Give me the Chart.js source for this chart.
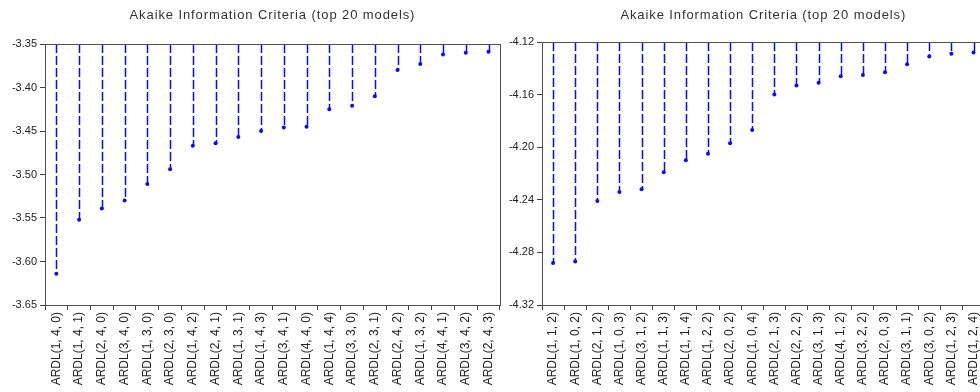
<!DOCTYPE html>
<html>
<head>
<meta charset="utf-8">
<script src="https://cdn.jsdelivr.net/npm/chart.js@4"></script>
<style>
html, body { margin: 0; padding: 0; background: #fff; overflow: hidden; width: 980px; height: 392px; }
#wrap { position: relative; width: 980px; height: 392px; overflow: hidden; }
canvas { position: absolute; top: 0; }
</style>
</head>
<body>
<div id="wrap">
  <canvas id="c1" width="505" height="392" style="left:0"></canvas>
  <canvas id="c2" width="490" height="392" style="left:500px"></canvas>
</div>
<script>
// left panel
const leftModels = ['ARDL(1, 4, 0)','ARDL(1, 4, 1)','ARDL(2, 4, 0)','ARDL(3, 4, 0)','ARDL(1, 3, 0)',
  'ARDL(2, 3, 0)','ARDL(1, 4, 2)','ARDL(2, 4, 1)','ARDL(1, 3, 1)','ARDL(1, 4, 3)',
  'ARDL(3, 4, 1)','ARDL(4, 4, 0)','ARDL(1, 4, 4)','ARDL(3, 3, 0)','ARDL(2, 3, 1)',
  'ARDL(2, 4, 2)','ARDL(1, 3, 2)','ARDL(4, 4, 1)','ARDL(3, 4, 2)','ARDL(2, 4, 3)'];
const leftAic = [-3.614, -3.552, -3.539, -3.530, -3.511, -3.494, -3.467, -3.464, -3.457, -3.450,
  -3.446, -3.445, -3.425, -3.421, -3.410, -3.380, -3.373, -3.362, -3.360, -3.359];
const leftRange = [-3.65, -3.35, 0.05];

// right panel
const rightModels = ['ARDL(1, 1, 2)','ARDL(1, 0, 2)','ARDL(2, 1, 2)','ARDL(1, 0, 3)','ARDL(3, 1, 2)',
  'ARDL(1, 1, 3)','ARDL(1, 1, 4)','ARDL(1, 2, 2)','ARDL(2, 0, 2)','ARDL(1, 0, 4)',
  'ARDL(2, 1, 3)','ARDL(2, 2, 2)','ARDL(3, 1, 3)','ARDL(4, 1, 2)','ARDL(3, 2, 2)',
  'ARDL(2, 0, 3)','ARDL(3, 1, 1)','ARDL(3, 0, 2)','ARDL(1, 2, 3)','ARDL(1, 2, 4)'];
const rightAic = [-4.288, -4.287, -4.241, -4.234, -4.232, -4.219, -4.210, -4.205, -4.197, -4.187,
  -4.160, -4.153, -4.151, -4.146, -4.145, -4.143, -4.137, -4.131, -4.129, -4.128];
const rightRange = [-4.32, -4.12, 0.04];

const titleText = 'Akaike Information Criteria (top 20 models)';

// dashed stems from the top of the plot down to each value
const stems = {
  id: 'stems',
  beforeDatasetsDraw(chart) {
    const { ctx, chartArea } = chart;
    ctx.save();
    ctx.strokeStyle = '#0a0aff';
    ctx.lineWidth = 1.5;
    ctx.setLineDash([9, 3]);
    chart.getDatasetMeta(0).data.forEach(p => {
      ctx.beginPath();
      ctx.moveTo(Math.round(p.x) + 0.5, chartArea.top);
      ctx.lineTo(Math.round(p.x) + 0.5, p.y);
      ctx.stroke();
    });
    ctx.restore();
  }
};

// frame + title centred on the plot
const frame = {
  id: 'frame',
  afterDraw(chart) {
    const { ctx, chartArea: a } = chart;
    ctx.save();
    ctx.strokeStyle = '#505050';
    ctx.lineWidth = 1;
    ctx.strokeRect(Math.round(a.left) + 0.5, Math.round(a.top) + 0.5,
      Math.round(a.right - a.left), Math.round(a.bottom - a.top));
    ctx.fillStyle = '#333';
    ctx.font = '13px "Liberation Sans", Arial, sans-serif';
    ctx.letterSpacing = '0.9px';
    ctx.textAlign = 'center';
    ctx.textBaseline = 'middle';
    ctx.fillText(titleText, (a.left + a.right) / 2, 15);
    ctx.restore();
  }
};

function makeChart(id, labels, values, range, axisW, top) {
  return new Chart(document.getElementById(id), {
    type: 'line',
    data: {
      labels: labels,
      datasets: [{
        data: values,
        showLine: false,
        pointRadius: 2,
        pointBackgroundColor: '#0a0aff',
        pointBorderColor: '#0a0aff',
        pointBorderWidth: 0
      }]
    },
    options: {
      responsive: false,
      animation: false,
      layout: { padding: { top: top, right: 4, left: 0, bottom: 0 } },
      plugins: { legend: { display: false }, tooltip: { enabled: false } },
      scales: {
        x: {
          type: 'category',
          offset: true,
          grid: { offset: true, drawOnChartArea: false, tickLength: 5, color: '#404040' },
          border: { color: '#505050' },
          ticks: {
            autoSkip: false, minRotation: 90, maxRotation: 90, padding: 2,
            color: '#222', font: { family: '"Liberation Sans", Arial, sans-serif', size: 12 }
          },
          afterFit: s => { s.height = 87; }
        },
        y: {
          min: range[0], max: range[1],
          grid: { drawOnChartArea: false, tickLength: 5, color: '#404040' },
          border: { color: '#505050' },
          ticks: {
            stepSize: range[2], padding: 3, color: '#222',
            font: { family: '"Liberation Sans", Arial, sans-serif', size: 11 },
            callback: v => v.toFixed(2)
          },
          afterFit: s => { s.width = axisW; }
        }
      }
    },
    plugins: [stems, frame]
  });
}

makeChart('c1', leftModels, leftAic, leftRange, 45, 44);
makeChart('c2', rightModels, rightAic, rightRange, 42, 42);
</script>
</body>
</html>
